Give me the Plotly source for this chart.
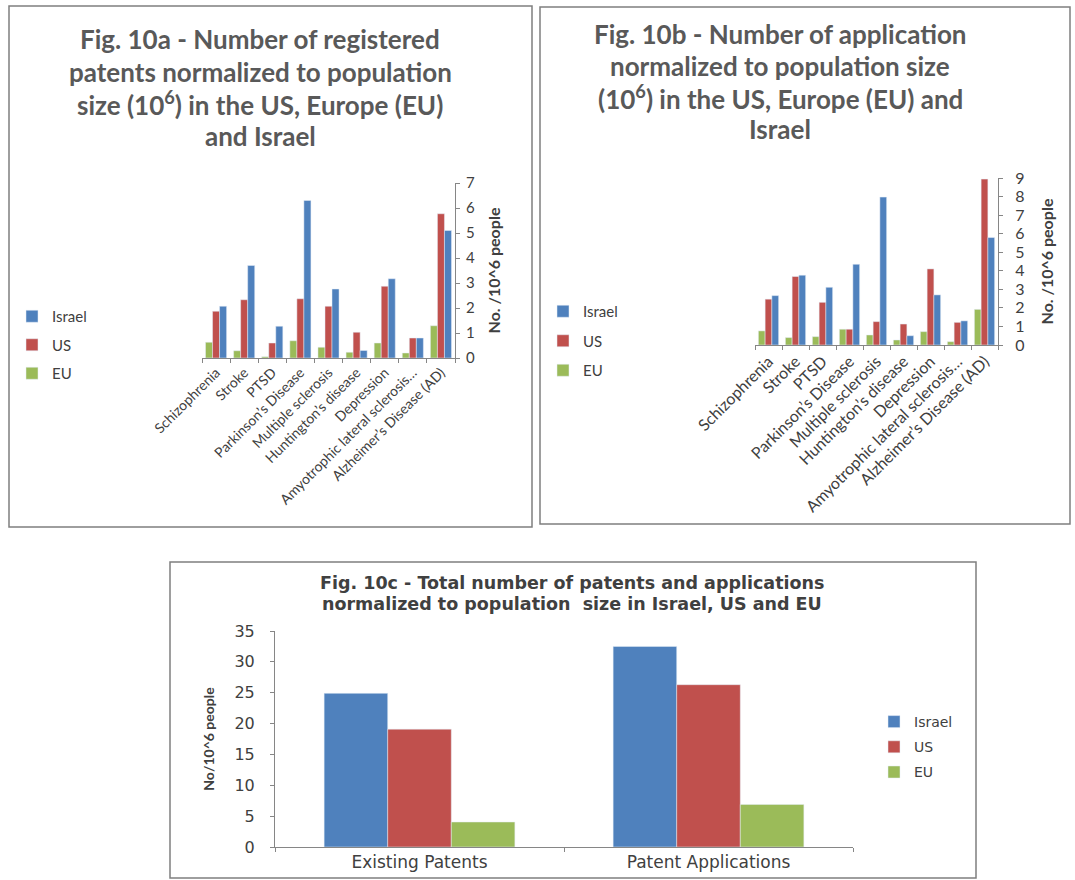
import plotly.graph_objects as go

# ---------------- data ----------------
categories = ["Schizophrenia", "Stroke", "PTSD", "Parkinson’s Disease", "Multiple sclerosis",
              "Huntington’s disease", "Depression", "Amyotrophic lateral sclerosis…",
              "Alzheimer’s Disease (AD)"]

reg_israel = [2.07, 3.70, 1.27, 6.30, 2.76, 0.30, 3.17, 0.80, 5.10]
reg_us     = [1.87, 2.33, 0.60, 2.37, 2.07, 1.03, 2.87, 0.80, 5.77]
reg_eu     = [0.63, 0.29, 0.05, 0.69, 0.43, 0.23, 0.60, 0.20, 1.29]

app_israel = [2.66, 3.76, 3.11, 4.35, 7.97, 0.50, 2.70, 1.30, 5.79]
app_us     = [2.47, 3.69, 2.30, 0.85, 1.26, 1.13, 4.10, 1.22, 8.94]
app_eu     = [0.76, 0.40, 0.45, 0.85, 0.54, 0.27, 0.72, 0.18, 1.92]

total_categories = ["Existing Patents", "Patent Applications"]
total_israel = [24.9, 32.5]
total_us     = [19.1, 26.3]
total_eu     = [4.05, 6.9]

# ---------------- style ----------------
BLUE, RED, GREEN = "#4F81BD", "#C0504D", "#9BBB59"
AX = "#868686"
TXT = "#404040"
TITLE = "#595959"
F1 = "Lato"
F2 = "DejaVu Sans"
W, H = 1075, 880

def px(x):
    return x / W

def py(y):
    return 1 - y / H

fig = go.Figure()

rank = {"Israel": 1, "US": 2, "EU": 3}

# Fig 10a
for name, vals, col in [("EU", reg_eu, GREEN), ("US", reg_us, RED), ("Israel", reg_israel, BLUE)]:
    fig.add_trace(go.Bar(x=categories, y=vals, name=name, marker_color=col,
                         xaxis="x", yaxis="y", legend="legend", legendgroup="a" + name,
                         legendrank=rank[name]))
# Fig 10b
for name, vals, col in [("EU", app_eu, GREEN), ("US", app_us, RED), ("Israel", app_israel, BLUE)]:
    fig.add_trace(go.Bar(x=categories, y=vals, name=name, marker_color=col,
                         xaxis="x2", yaxis="y2", legend="legend2", legendgroup="b" + name,
                         legendrank=rank[name]))
# Fig 10c
for (name, vals, col), off in zip([("Israel", total_israel, BLUE), ("US", total_us, RED),
                                   ("EU", total_eu, GREEN)], [-0.33, -0.11, 0.11]):
    fig.add_trace(go.Bar(x=total_categories, y=vals, name=name, marker_color=col,
                         width=0.22, offset=off,
                         xaxis="x3", yaxis="y3", legend="legend3", legendgroup="c" + name,
                         legendrank=rank[name]))

def cat_axis(size):
    return dict(tickangle=-45, tickson="boundaries", ticks="outside", ticklen=4, tickcolor=AX,
                showline=True, linecolor=AX, linewidth=1, showgrid=False, automargin=False,
                tickfont=dict(family=F1, size=size, color=TXT))

def val_axis(size, standoff):
    return dict(side="right", ticks="outside", ticklen=4, tickcolor=AX, showline=True,
                linecolor=AX, linewidth=1, showgrid=False, zeroline=False, dtick=1,
                automargin=False, ticklabelstandoff=standoff,
                tickfont=dict(family=F1, size=size, color=TXT))

fig.update_layout(
    width=W, height=H, margin=dict(l=0, r=0, t=0, b=0, autoexpand=False),
    paper_bgcolor="white", plot_bgcolor="white",
    barmode="group", bargap=0.25, bargroupgap=0,
    xaxis=dict(domain=[px(202), px(455)], anchor="y", **cat_axis(14)),
    yaxis=dict(domain=[py(358), py(183)], anchor="x", range=[0, 7],
               title=dict(text="No. /10^6 people", standoff=14,
                          font=dict(family=F1, size=16, color=TXT, weight="bold")),
               **val_axis(15, 3)),
    xaxis2=dict(domain=[px(755), px(998)], anchor="y2", **cat_axis(16)),
    yaxis2=dict(domain=[py(345), py(178)], anchor="x2", range=[0, 9],
                title=dict(text="No. /10^6 people", standoff=18,
                           font=dict(family=F1, size=16, color=TXT, weight="bold")),
                **val_axis(16, 9)),
    xaxis3=dict(domain=[px(275), px(853)], anchor="y3", tickson="boundaries", ticks="outside",
                ticklen=4, tickcolor=AX, showline=True, linecolor=AX, showgrid=False,
                automargin=False, tickfont=dict(family=F2, size=17, color=TXT)),
    yaxis3=dict(domain=[py(847), py(631)], anchor="x3", range=[0, 35], dtick=5,
                ticks="outside", ticklen=4, tickcolor=AX, showline=True, linecolor=AX,
                showgrid=False, zeroline=False, automargin=False, ticklabelstandoff=12,
                tickfont=dict(family=F2, size=16, color=TXT),
                title=dict(text="No/10^6 people", standoff=16,
                           font=dict(family=F1, size=14, color=TXT, weight="bold"))),
    legend=dict(x=px(12), y=py(300), xanchor="left", yanchor="top", itemwidth=30,
                traceorder="grouped", tracegroupgap=6,
                font=dict(family=F1, size=15, color=TXT), bgcolor="rgba(0,0,0,0)"),
    legend2=dict(x=px(543), y=py(295), xanchor="left", yanchor="top", itemwidth=30,
                 traceorder="grouped", tracegroupgap=7,
                 font=dict(family=F1, size=15, color=TXT), bgcolor="rgba(0,0,0,0)"),
    legend3=dict(x=px(874), y=py(706), xanchor="left", yanchor="top", itemwidth=30,
                 traceorder="grouped", tracegroupgap=4,
                 font=dict(family=F2, size=14, color=TXT), bgcolor="rgba(0,0,0,0)"),
)

# panel borders
for (x0, y0, x1, y1) in [(9, 6, 532, 527), (540, 7, 1070, 524), (170, 562, 976, 878)]:
    fig.add_shape(type="rect", xref="paper", yref="paper",
                  x0=px(x0), x1=px(x1), y0=py(y1), y1=py(y0),
                  line=dict(color="#7f7f7f", width=1.5))

# titles
t_a = ["Fig. 10a - Number of registered", "patents normalized to population",
       "size (10<sup>6</sup>) in the US, Europe (EU)", "and Israel"]
t_b = ["Fig. 10b - Number of application", "normalized to population size",
       "(10<sup>6</sup>) in the US, Europe (EU) and", "Israel"]
t_c = ["Fig. 10c - Total number of patents and applications",
       "normalized to population  size in Israel, US and EU"]

for lines, cx, ys, fam, size, col in [
        (t_a, 260, [39, 72, 104, 136], F1, 26, TITLE),
        (t_b, 780, [34, 66, 98, 129], F1, 26, TITLE),
        (t_c, 572, [583, 604], F2, 17.5, TXT)]:
    for txt, yy in zip(lines, ys):
        fig.add_annotation(text="<b>" + txt + "</b>", x=px(cx), y=py(yy), xref="paper", yref="paper",
                           xanchor="center", yanchor="middle", showarrow=False,
                           font=dict(family=fam, size=size, color=col))

fig.write_html("out.html")
